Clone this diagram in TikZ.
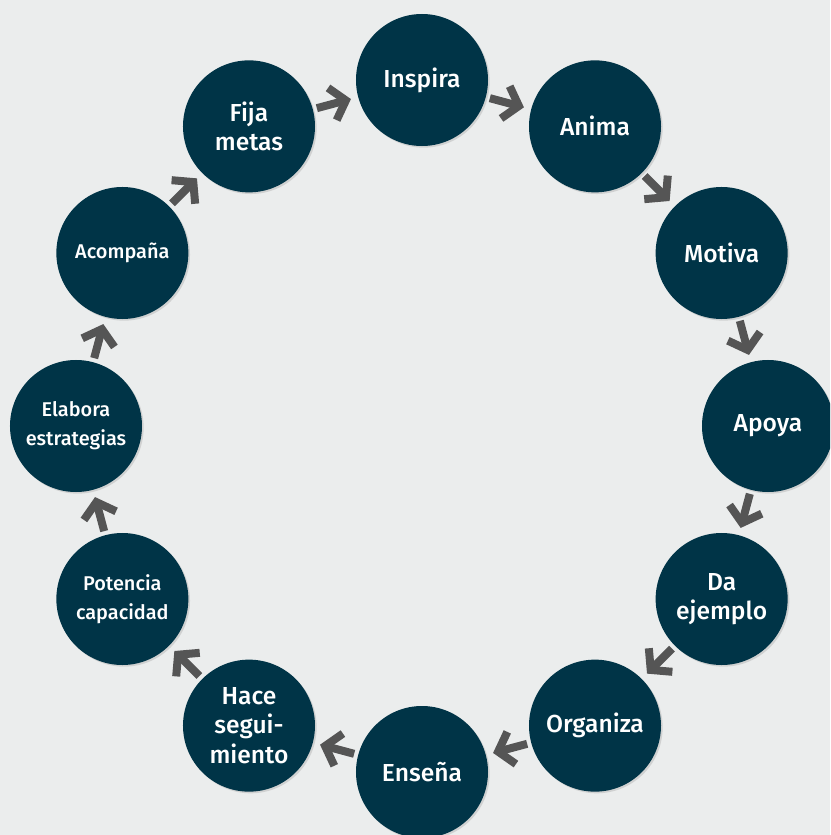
\documentclass[tikz,border=0pt]{standalone}
\usepackage{fontspec}
\setmainfont{Fira Sans}[UprightFont=* Medium]
\usepackage{tikz}
\usetikzlibrary{arrows.meta,shadows}

\definecolor{bgray}{HTML}{EBEDED}
\definecolor{navy}{HTML}{003447}
\definecolor{agray}{HTML}{555555}

\begin{document}
\begin{tikzpicture}[x=0.03cm, y=0.03cm,
roundnode/.style={circle, fill=navy, text=white, minimum size=3.96cm, inner sep=0pt, align=center,
  font=\fontsize{21}{25}\selectfont, drop shadow={shadow xshift=0.05cm, shadow yshift=-0.05cm, opacity=0.25}},
smallnode/.style={roundnode, font=\fontsize{17}{25}\selectfont},
arrowline/.style={draw=agray, line width=0.24cm, line cap=butt, shorten <=0.12cm, shorten >=0.22cm,
  -{Straight Barb[length=0.42cm, width=1.0cm, line join=miter, line cap=butt]}},
]
\fill[bgray] (-422,-409) rectangle (408,426);
\useasboundingbox (-422,-409) rectangle (408,426);
\clip (-422,-409) rectangle (408,426);
%Nodes
\node[roundnode] (inspira)     at (90:346)   {Inspira};
\node[roundnode] (anima)       at (60:346)   {Anima};
\node[roundnode] (motiva)      at (30:346)   {Motiva};
\node[roundnode] (apoya)       at (0:346)    {Apoya};
\node[roundnode] (ejemplo)     at (-30:346)  {Da\\ejemplo};
\node[roundnode] (organiza)    at (-60:346)  {Organiza};
\node[roundnode] (ensena)      at (-90:346)  {Enseña};
\node[roundnode] (seguimiento) at (-120:346) {Hace\\segui-\\miento};
\node[smallnode] (potencia)    at (-150:346) {Potencia\\capacidad};
\node[smallnode] (elabora)     at (180:346)  {Elabora\\estrategias};
\node[smallnode] (acompana)    at (150:346)  {Acompaña};
\node[roundnode] (fija)        at (120:346)  {Fija\\metas};

%Lines
\draw[arrowline] (fija) -- (inspira);
\draw[arrowline] (inspira) -- (anima);
\draw[arrowline] (anima) -- (motiva);
\draw[arrowline] (motiva) -- (apoya);
\draw[arrowline] (apoya) -- (ejemplo);
\draw[arrowline] (ejemplo) -- (organiza);
\draw[arrowline] (organiza) -- (ensena);
\draw[arrowline] (ensena) -- (seguimiento);
\draw[arrowline] (seguimiento) -- (potencia);
\draw[arrowline] (potencia) -- (elabora);
\draw[arrowline] (elabora) -- (acompana);
\draw[arrowline] (acompana) -- (fija);

\end{tikzpicture}
\end{document}
